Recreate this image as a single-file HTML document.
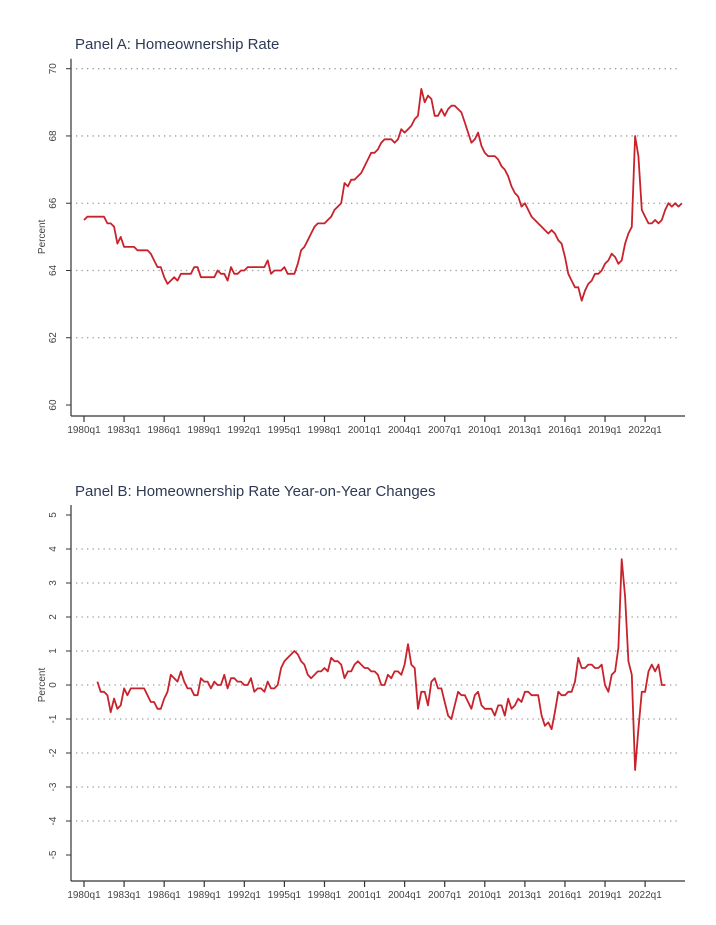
<!DOCTYPE html>
<html><head><meta charset="utf-8"><style>
body{margin:0;background:#fff;}
svg{display:block;font-family:"Liberation Sans",sans-serif;}
</style></head><body>
<svg id="c" width="716" height="925"></svg>
<script>
const xTickLabels=["1980q1","1983q1","1986q1","1989q1","1992q1","1995q1","1998q1","2001q1","2004q1","2007q1","2010q1","2013q1","2016q1","2019q1","2022q1"];
const ticksA=[60,62,64,66,68,70];
const ticksB=[-5,-4,-3,-2,-1,0,1,2,3,4,5];
// Panel A: quarterly from 1980q1
const rateA=[65.5,65.6,65.6,65.6, 65.6,65.6,65.6,65.4, 65.4,65.3,64.8,65.0, 64.7,64.7,64.7,64.7,
64.6,64.6,64.6,64.6, 64.5,64.3,64.1,64.1, 63.8,63.6,63.7,63.8, 63.7,63.9,63.9,63.9,
63.9,64.1,64.1,63.8, 63.8,63.8,63.8,63.8, 64.0,63.9,63.9,63.7, 64.1,63.9,63.9,64.0,
64.0,64.1,64.1,64.1, 64.1,64.1,64.1,64.3, 63.9,64.0,64.0,64.0, 64.1,63.9,63.9,63.9,
64.2,64.6,64.7,64.9, 65.1,65.3,65.4,65.4, 65.4,65.5,65.6,65.8, 65.9,66.0,66.6,66.5,
66.7,66.7,66.8,66.9, 67.1,67.3,67.5,67.5, 67.6,67.8,67.9,67.9, 67.9,67.8,67.9,68.2,
68.1,68.2,68.3,68.5, 68.6,69.4,69.0,69.2, 69.1,68.6,68.6,68.8, 68.6,68.8,68.9,68.9,
68.8,68.7,68.4,68.1, 67.8,67.9,68.1,67.7, 67.5,67.4,67.4,67.4, 67.3,67.1,67.0,66.8,
66.5,66.3,66.2,65.9, 66.0,65.8,65.6,65.5, 65.4,65.3,65.2,65.1, 65.2,65.1,64.9,64.8,
64.4,63.9,63.7,63.5, 63.5,63.1,63.4,63.6, 63.7,63.9,63.9,64.0, 64.2,64.3,64.5,64.4,
64.2,64.3,64.8,65.1, 65.3,68.0,67.4,65.8, 65.6,65.4,65.4,65.5, 65.4,65.5,65.8,66.0,
65.9,66.0,65.9,66.0];
// Panel B: year-on-year change, quarterly from 1981q1
const yoyB=[0.1,-0.2,-0.2,-0.3, -0.8,-0.4,-0.7,-0.6, -0.1,-0.3,-0.1,-0.1, -0.1,-0.1,-0.1,-0.3,
-0.5,-0.5,-0.7,-0.7, -0.4,-0.2,0.3,0.2, 0.1,0.4,0.1,-0.1, -0.1,-0.3,-0.3,0.2,
0.1,0.1,-0.1,0.1, 0.0,0.0,0.3,-0.1, 0.2,0.2,0.1,0.1, 0.0,0.0,0.2,-0.2,
-0.1,-0.1,-0.2,0.1, -0.1,-0.1,0.0,0.5, 0.7,0.8,0.9,1.0, 0.9,0.7,0.6,0.3,
0.2,0.3,0.4,0.4, 0.5,0.4,0.8,0.7, 0.7,0.6,0.2,0.4, 0.4,0.6,0.7,0.6,
0.5,0.5,0.4,0.4, 0.3,0.0,0.0,0.3, 0.2,0.4,0.4,0.3, 0.6,1.2,0.6,0.5,
-0.7,-0.2,-0.2,-0.6, 0.1,0.2,-0.1,-0.1, -0.5,-0.9,-1.0,-0.6, -0.2,-0.3,-0.3,-0.5,
-0.7,-0.3,-0.2,-0.6, -0.7,-0.7,-0.7,-0.9, -0.6,-0.6,-0.9,-0.4, -0.7,-0.6,-0.4,-0.5,
-0.2,-0.2,-0.3,-0.3, -0.3,-0.9,-1.2,-1.1, -1.3,-0.8,-0.2,-0.3, -0.3,-0.2,-0.2,0.1,
0.8,0.5,0.5,0.6, 0.6,0.5,0.5,0.6, 0.0,-0.2,0.3,0.4, 1.1,3.7,2.6,0.7,
0.3,-2.5,-1.3,-0.2, -0.2,0.4,0.6,0.4, 0.6,0.0,0.0];

const NS="http://www.w3.org/2000/svg";
const svg=document.getElementById('c');
function mk(tag,attrs,parent){const e=document.createElementNS(NS,tag);for(const k in attrs)e.setAttribute(k,attrs[k]);(parent||svg).appendChild(e);return e;}
const QW=3.34, X0=84;
function xq(q){return X0+q*QW;}

function panel(cfg){
  const g=mk('g',{});
  
  
  const y=v=>cfg.yTop+(cfg.vmax-v)*(cfg.yBot-cfg.yTop)/(cfg.vmax-cfg.vmin);
  const t=mk('text',{x:75,y:cfg.titleY,'font-size':15,fill:'#2e3a55'},g);
  t.textContent=cfg.title;
  
  
  // grid
  cfg.ticks.forEach(v=>{
    if(cfg.grid.includes(v)){
      const l=mk('line',{x1:76,x2:680,y1:y(v),y2:y(v),stroke:'#9a9a9a','stroke-width':1.3,'stroke-dasharray':'1.3 4.2'},g);
      
      
    }
    mk('line',{x1:66,x2:71,y1:y(v),y2:y(v),stroke:'#333','stroke-width':1},g);
    const lb=mk('text',{x:0,y:0,'font-size':10,fill:'#444','text-anchor':'middle',transform:`translate(56,${y(v)}) rotate(-90)`},g);
    lb.textContent=v;
    
    
  });
  // axes
  const ax=mk('line',{x1:71,x2:71,y1:cfg.yTop-10,y2:cfg.axisY,stroke:'#333','stroke-width':1.2},g);
  
  
  const bx=mk('line',{x1:71,x2:685,y1:cfg.axisY,y2:cfg.axisY,stroke:'#333','stroke-width':1.2},g);
  
  
  xTickLabels.forEach((s,i)=>{
    const xx=xq(i*12);
    mk('line',{x1:xx,x2:xx,y1:cfg.axisY,y2:cfg.axisY+6,stroke:'#333','stroke-width':1.2},g);
    const lb=mk('text',{x:xx,y:cfg.axisY+17,'font-size':10,fill:'#444','text-anchor':'middle'},g);
    lb.textContent=s;
    
    
  });
  const yt=mk('text',{x:0,y:0,'font-size':10,fill:'#444','text-anchor':'middle',transform:`translate(45,${y(cfg.titleV)}) rotate(-90)`},g);
  yt.textContent='Percent';
  
  
  const pts=cfg.data.map((v,i)=>xq(i+cfg.offset).toFixed(1)+','+y(v).toFixed(1)).join(' ');
  const pl=mk('polyline',{points:pts,fill:'none',stroke:'#c8232c','stroke-width':1.8,'stroke-linejoin':'round'},g);
  
  
}
panel({name:'panel-a',title:'Panel A: Homeownership Rate',titleY:49,yTop:68.7,yBot:405,vmin:60,vmax:70,axisY:416,
  ticks:ticksA,grid:[62,64,66,68,70],data:rateA,offset:0,titleV:65});
panel({name:'panel-b',title:'Panel B: Homeownership Rate Year-on-Year Changes',titleY:496,yTop:515,yBot:855,vmin:-5,vmax:5,axisY:881,
  ticks:ticksB,grid:[-4,-3,-2,-1,0,1,2,3,4],data:yoyB,offset:4,titleV:0});
</script>
</body></html>
